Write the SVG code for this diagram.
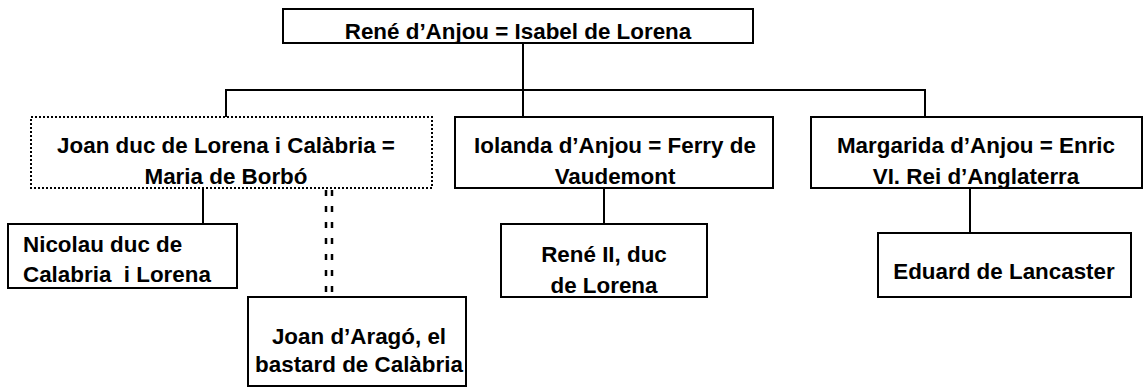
<svg xmlns="http://www.w3.org/2000/svg" width="1146" height="387" viewBox="0 0 1146 387">
<style>
.box{fill:#fff;stroke:#000;stroke-width:2}
.dot{fill:#fff;stroke:#000;stroke-width:2;stroke-dasharray:2 2}
.t{font-family:"Liberation Sans",Arial,sans-serif;font-weight:bold;font-size:22.4px;fill:#000}
.c{text-anchor:middle}
.ln{stroke:#000;stroke-width:2;fill:none}
.dash{stroke:#000;stroke-width:2.5;fill:none;stroke-dasharray:6 10}
</style>
<defs>
<clipPath id="cJoan"><rect x="31" y="117" width="401" height="71"/></clipPath>
<clipPath id="cIol"><rect x="455" y="117" width="318" height="71"/></clipPath>
<clipPath id="cMar"><rect x="811" y="117" width="331" height="71"/></clipPath>
<clipPath id="cRene2"><rect x="501" y="224" width="206" height="73"/></clipPath>
</defs>
<g id="connectors">
<line class="ln" x1="523" y1="43" x2="523" y2="117"/>
<polyline class="ln" points="226,117 226,90 925,90 925,117"/>
<line class="ln" x1="203" y1="188" x2="203" y2="224"/>
<line class="dash" x1="326" y1="190" x2="326" y2="297"/>
<line class="dash" x1="332" y1="190" x2="332" y2="297"/>
<line class="ln" x1="604" y1="188" x2="604" y2="224"/>
<line class="ln" x1="970" y1="188" x2="970" y2="233"/>
</g>
<g id="rene">
<rect class="box" x="283" y="9" width="470" height="34"/>
<text class="t c" x="518" y="38.5">René d’Anjou = Isabel de Lorena</text>
</g>
<g id="joan">
<rect class="dot" x="31" y="117" width="401" height="71"/>
<g clip-path="url(#cJoan)">
<text class="t c" x="226" y="153">Joan duc de Lorena i Calàbria =</text>
<text class="t c" x="226" y="184">Maria de Borbó</text>
</g>
</g>
<g id="iolanda">
<rect class="box" x="455" y="117" width="318" height="71"/>
<g clip-path="url(#cIol)">
<text class="t c" x="615" y="153">Iolanda d’Anjou = Ferry de</text>
<text class="t c" x="615" y="184">Vaudemont</text>
</g>
<rect x="455" y="117" width="318" height="71" fill="none" stroke="#000" stroke-width="2"/>
</g>
<g id="margarida">
<rect class="box" x="811" y="117" width="331" height="71"/>
<g clip-path="url(#cMar)">
<text class="t c" x="976" y="153">Margarida d’Anjou = Enric</text>
<text class="t c" x="976" y="184">VI. Rei d’Anglaterra</text>
</g>
<rect x="811" y="117" width="331" height="71" fill="none" stroke="#000" stroke-width="2"/>
</g>
<g id="nicolau">
<rect class="box" x="8" y="224" width="229" height="64"/>
<text class="t" x="23" y="252">Nicolau duc de</text>
<text class="t" x="23" y="282" xml:space="preserve">Calabria  i Lorena</text>
</g>
<g id="aragó">
<rect class="box" x="248" y="297" width="218" height="89"/>
<text class="t c" x="359" y="344">Joan d’Aragó, el</text>
<text class="t c" x="359" y="372">bastard de Calàbria</text>
</g>
<g id="rene2">
<rect class="box" x="501" y="224" width="206" height="73"/>
<g clip-path="url(#cRene2)">
<text class="t c" x="604" y="262">René II, duc</text>
<text class="t c" x="604" y="293">de Lorena</text>
</g>
<rect x="501" y="224" width="206" height="73" fill="none" stroke="#000" stroke-width="2"/>
</g>
<g id="eduard">
<rect class="box" x="878" y="233" width="253" height="64"/>
<text class="t c" x="1004" y="279">Eduard de Lancaster</text>
</g>
</svg>
